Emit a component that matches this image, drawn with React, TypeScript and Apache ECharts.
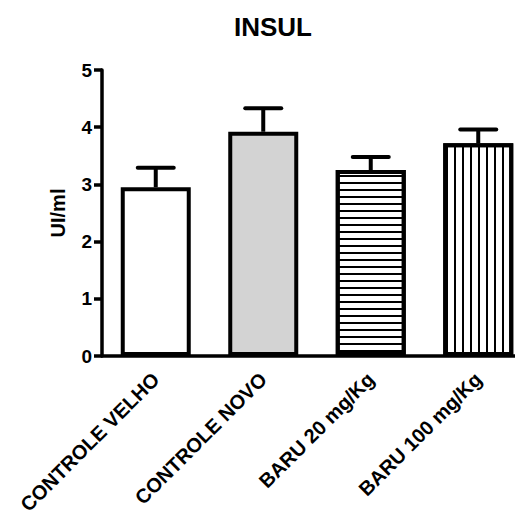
import React, { useEffect, useRef } from "react";
import * as echarts from "echarts";

const title = "INSUL";
const yAxisName = "UI/ml";
const categories = ["CONTROLE VELHO", "CONTROLE NOVO", "BARU 20 mg/Kg", "BARU 100 mg/Kg"];
const means = [2.95, 3.92, 3.25, 3.72];
const upperErrors = [3.29, 4.33, 3.48, 3.96];
const fills = ["#ffffff", "#d3d3d3", "#ffffff", "#ffffff"];
const patterns = ["none", "none", "horizontal", "vertical"];
const yTicks = [0, 1, 2, 3, 4, 5];

const FONT = "'Liberation Sans', Arial, Helvetica, sans-serif";

function decalFor(p: string) {
  if (p === "horizontal") {
    return {
      symbol: "rect",
      symbolSize: 1,
      dashArrayX: [1, 0],
      dashArrayY: [1.2, 4.8],
      rotation: 0,
      color: "#000000",
      backgroundColor: "#ffffff",
    };
  }
  if (p === "vertical") {
    return {
      symbol: "rect",
      symbolSize: 1,
      dashArrayX: [1, 0],
      dashArrayY: [1.4, 5.8],
      rotation: Math.PI / 2,
      color: "#000000",
      backgroundColor: "#ffffff",
    };
  }
  return undefined;
}

export default function App() {
  const ref = useRef<HTMLDivElement>(null);
  useEffect(() => {
    if (!ref.current) return;
    const chart = echarts.init(ref.current, undefined, { renderer: "svg" });
    const barData = means.map((m, i) => {
      const d: any = {
        value: m,
        itemStyle: { color: fills[i], borderColor: "#000", borderWidth: 4 },
      };
      const dec = decalFor(patterns[i]);
      if (dec) d.itemStyle.decal = dec;
      return d;
    });
    const errData = means.map((m, i) => [i, m, upperErrors[i]]);
    chart.setOption({
      animation: false,
      backgroundColor: "#ffffff",
      title: {
        text: title,
        left: 229,
        top: 9,
        textStyle: { fontFamily: FONT, fontSize: 26, fontWeight: "bold", color: "#000" },
      },
      grid: { left: 102, right: 0, top: 70, bottom: 168, containLabel: false },
      xAxis: {
        type: "category",
        data: categories,
        axisLine: { lineStyle: { color: "#000", width: 3.5 } },
        axisTick: { alignWithLabel: true, length: 8, lineStyle: { color: "#000", width: 3.5 } },
        axisLabel: {
          rotate: 45,
          margin: 20,
          interval: 0,
          color: "#000",
          fontFamily: FONT,
          fontSize: 20,
          fontWeight: "bold",
        },
      },
      yAxis: {
        type: "value",
        min: yTicks[0],
        max: yTicks[yTicks.length - 1],
        interval: 1,
        name: yAxisName,
        nameLocation: "middle",
        nameGap: 34,
        nameRotate: 90,
        nameTextStyle: { fontFamily: FONT, fontSize: 20, fontWeight: "bold", color: "#000" },
        axisLine: { show: true, lineStyle: { color: "#000", width: 3.5 } },
        axisTick: { show: true, length: 8, lineStyle: { color: "#000", width: 3.5 } },
        axisLabel: {
          margin: 10,
          color: "#000",
          fontFamily: FONT,
          fontSize: 19,
          fontWeight: "bold",
        },
        splitLine: { show: false },
      },
      series: [
        {
          type: "bar",
          data: barData,
          barWidth: 70,
          z: 2,
        },
        {
          type: "custom",
          z: 3,
          data: errData,
          renderItem: (params: any, api: any) => {
            const x = api.value(0);
            const base = api.coord([x, api.value(1)]);
            const top = api.coord([x, api.value(2)]);
            const half = 18;
            return {
              type: "group",
              children: [
                {
                  type: "line",
                  shape: { x1: base[0], y1: base[1], x2: top[0], y2: top[1] },
                  style: { stroke: "#000", lineWidth: 4 },
                },
                {
                  type: "line",
                  shape: { x1: top[0] - half, y1: top[1], x2: top[0] + half, y2: top[1] },
                  style: { stroke: "#000", lineWidth: 4, lineCap: "round" },
                },
              ],
            };
          },
        },
      ],
    });
    return () => chart.dispose();
  }, []);
  return (
    <div style={{ width: 523, height: 524, overflow: "hidden", marginLeft: -8, marginTop: -8 }}>
      <div ref={ref} style={{ width: 532, height: 524 }} />
    </div>
  );
}
